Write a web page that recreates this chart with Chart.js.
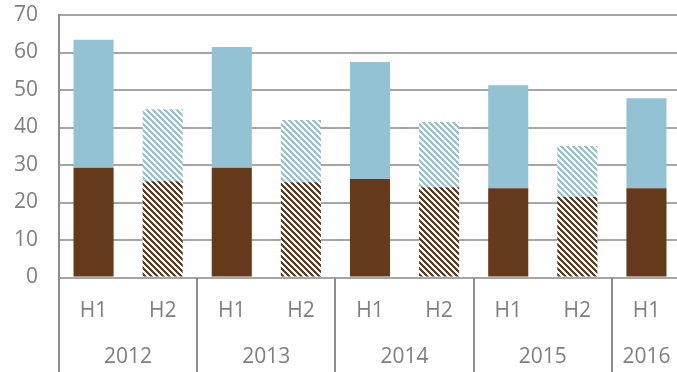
<!DOCTYPE html>
<html><head><meta charset="utf-8">
<script src="https://cdn.jsdelivr.net/npm/chart.js@4.4.0/dist/chart.umd.min.js"></script>
<style>html,body{margin:0;padding:0;overflow:hidden;background:#fff}#wrap{width:681px;height:372px;position:relative}</style>
</head><body><div id="wrap"><canvas id="c" width="681" height="372"></canvas></div>
<script>
const periods = ['H1','H2','H1','H2','H1','H2','H1','H2','H1'];
const years = ['2012','2013','2014','2015','2016'];
const yearSpans = [2,2,2,2,1];
const lowerValues = [29.3,25.7,29.3,25.4,26.3,24.1,23.8,21.5,23.8];
const upperValues = [34.1,19.2,32.2,16.6,31.2,17.4,27.5,13.6,24.0];
const hatched = [false,true,false,true,false,true,false,true,false];
const yMin = 0, yMax = 70, yStep = 10;

const BROWN = '#643a1b', BLUE = '#92c2d4', TEXT = '#7f7f7f', LINE = '#8c8c8c', GRID = '#a6a6a6';
const FONT = '"Open Sans", Lato, sans-serif';

function hatch(color){
  const c = document.createElement('canvas'); c.width = 6; c.height = 6;
  const g = c.getContext('2d');
  g.fillStyle = '#fff'; g.fillRect(0,0,6,6);
  g.fillStyle = color;
  for (let y=0;y<6;y++) for (let x=0;x<6;x++) if ((((x-y)%6)+6)%6 < 3) g.fillRect(x,y,1,1);
  return g.createPattern(c,'repeat');
}
const brownHatch = hatch(BROWN), blueHatch = hatch(BLUE);

const axisPlugin = {
  id: 'multiAxis',
  afterDraw(chart){
    const ctx = chart.ctx, x = chart.scales.x, area = chart.chartArea;
    const H = chart.height;
    ctx.save();
    ctx.strokeStyle = LINE; ctx.lineWidth = 2;
    let idx = 0;
    const bounds = [0];
    yearSpans.forEach(s => { idx += s; bounds.push(idx); });
    const half = (x.getPixelForValue(1) - x.getPixelForValue(0)) / 2;
    bounds.forEach((b,i) => {
      if (i === bounds.length - 1) return;
      const px = Math.round(x.getPixelForValue(b) - half);
      ctx.beginPath(); ctx.moveTo(px, area.bottom); ctx.lineTo(px, H); ctx.stroke();
    });
    ctx.fillStyle = TEXT;
    ctx.font = '21px ' + FONT;
    ctx.textAlign = 'center'; ctx.textBaseline = 'middle';
    periods.forEach((p,i) => ctx.fillText(p, x.getPixelForValue(i), 311));
    years.forEach((y,i) => {
      const a = bounds[i], b = bounds[i+1] - 1;
      const cx = (x.getPixelForValue(a) + x.getPixelForValue(b)) / 2;
      ctx.fillText(y, cx, 357);
    });
    ctx.restore();
  }
};

new Chart(document.getElementById('c'), {
  type: 'bar',
  data: {
    labels: periods,
    datasets: [
      { data: lowerValues, backgroundColor: hatched.map(h => h ? brownHatch : BROWN), borderWidth: 0 },
      { data: upperValues, backgroundColor: hatched.map(h => h ? blueHatch : BLUE), borderWidth: 0 }
    ]
  },
  options: {
    responsive: false, animation: false,
    layout: { padding: { top: 15, right: 0, left: 0, bottom: 0 } },
    plugins: { legend: { display: false }, tooltip: { enabled: false } },
    datasets: { bar: { categoryPercentage: 1, barPercentage: 0.58 } },
    scales: {
      x: {
        stacked: true,
        ticks: { display: false },
        grid: { display: false, drawTicks: false },
        border: { display: false },
        afterFit: s => { s.height = 94.5; s.paddingLeft = 0; s.paddingRight = 0; }
      },
      y: {
        stacked: true, min: yMin, max: yMax,
        ticks: { stepSize: yStep, color: TEXT, font: { family: FONT, size: 21 }, padding: 21 },
        grid: { color: GRID, lineWidth: 2, drawTicks: false },
        border: { color: LINE, width: 2 },
        afterFit: s => { s.width = 59; s.paddingTop = 0; s.paddingBottom = 0; }
      }
    }
  },
  plugins: [axisPlugin]
});
</script></body></html>
